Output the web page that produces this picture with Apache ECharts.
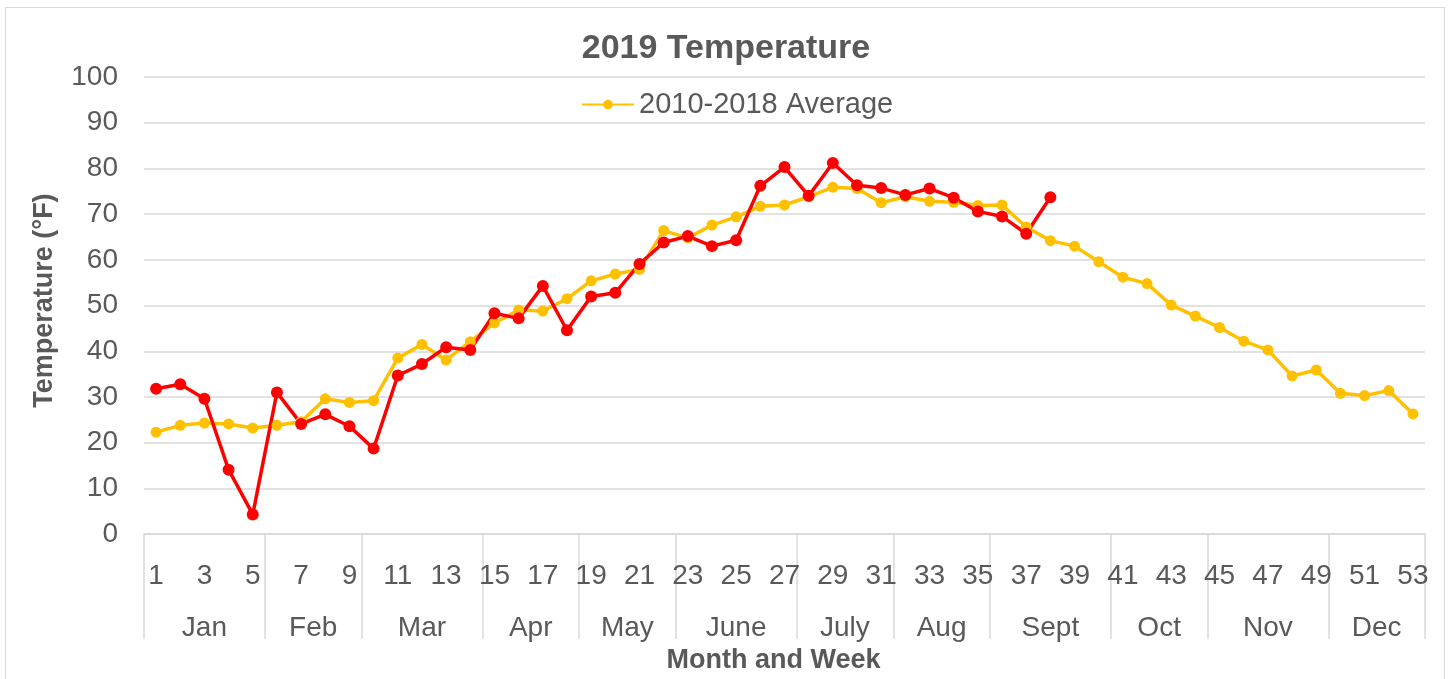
<!DOCTYPE html>
<html>
<head>
<meta charset="utf-8">
<title>2019 Temperature</title>
<script src="https://cdn.jsdelivr.net/npm/echarts@6/dist/echarts.min.js"></script>
<style>
    html, body { margin: 0; padding: 0; background: #fff; }
    #box {
        position: absolute; left: 5px; top: 7px; width: 1440px; height: 680px;
        border: 1px solid #d9d9d9; box-sizing: border-box;
    }
    #myChart { position: absolute; left: 0; top: 0; width: 1452px; height: 679px; }
</style>
</head>
<body>
<div id="box"></div>
<div id="myChart"></div>
<script>
// weeks 1..53
const weeks = [];
for (let i = 1; i <= 53; i++) weeks.push(String(i));

const avg2010_2018 = [
    22.3, 23.8, 24.3, 24.1, 23.2, 23.8, 24.6, 29.6, 28.8, 29.2,
    38.5, 41.5, 38.1, 42.1, 46.2, 49.0, 48.8, 51.5, 55.4, 56.9,
    57.9, 66.4, 64.8, 67.6, 69.4, 71.7, 72.0, 73.8, 75.9, 75.6,
    72.5, 73.8, 72.8, 72.6, 71.9, 72.0, 67.2, 64.2, 63.0, 59.6,
    56.2, 54.8, 50.1, 47.7, 45.2, 42.2, 40.3, 34.6, 35.9, 30.8,
    30.3, 31.4, 26.3
];

const temp2019 = [
    31.8, 32.8, 29.6, 14.1, 4.3, 31.0, 24.1, 26.2, 23.6, 18.7,
    34.7, 37.2, 40.9, 40.3, 48.3, 47.2, 54.3, 44.6, 52.0, 52.8,
    59.1, 63.8, 65.2, 63.0, 64.3, 76.2, 80.3, 74.0, 81.2, 76.3,
    75.7, 74.2, 75.6, 73.6, 70.6, 69.5, 65.7, 73.7
];

const months = ['Jan', 'Feb', 'Mar', 'Apr', 'May', 'June', 'July', 'Aug', 'Sept', 'Oct', 'Nov', 'Dec'];
// weeks per month
const monthWeeks = [5, 4, 5, 4, 4, 5, 4, 4, 5, 4, 5, 4];

const yTicks = [0, 10, 20, 30, 40, 50, 60, 70, 80, 90, 100];

// month boundaries and centres on a 0.5..53.5 scale
const bounds = [0.5];
const centres = [];
monthWeeks.forEach(n => {
    const start = bounds[bounds.length - 1];
    bounds.push(start + n);
    centres.push(start + n / 2);
});

const txt = '#595959';
const grid = '#d9d9d9';
const font = 'Liberation Sans, Arial, sans-serif';

let myChart = echarts.init(document.getElementById('myChart'));
var option = {
    animation: false,
    textStyle: { fontFamily: font },
    title: {
        text: '2019 Temperature',
        left: 'center',
        top: 27,
        textStyle: { color: txt, fontSize: 34, fontWeight: 'bold', fontFamily: font }
    },
    legend: {
        data: ['2010-2018 Average'],
        top: 85,
        left: 576,
        itemWidth: 52,
        itemHeight: 12,
        itemGap: 10,
        textStyle: { color: txt, fontSize: 29, fontFamily: font }
    },
    grid: {
        left: 144,
        right: 27,
        top: 77,
        bottom: 142
    },
    xAxis: [
        {
            type: 'category',
            data: weeks,
            boundaryGap: true,
            axisLine: { lineStyle: { color: grid, width: 1.5 } },
            axisTick: { show: false },
            axisLabel: {
                interval: 1,
                color: txt,
                fontSize: 28,
                margin: 28,
                fontFamily: font
            },
            splitLine: { show: false }
        },
        {
            type: 'value',
            min: 0.5,
            max: 53.5,
            position: 'bottom',
            axisLine: { show: false },
            axisTick: {
                show: true,
                customValues: bounds,
                length: 105,
                lineStyle: { color: grid, width: 1.5 }
            },
            axisLabel: {
                customValues: centres,
                color: txt,
                fontSize: 28,
                margin: 80,
                fontFamily: font,
                formatter: function (v) {
                    const i = centres.indexOf(v);
                    return i >= 0 ? months[i] : '';
                }
            },
            splitLine: { show: false },
            name: 'Month and Week',
            nameLocation: 'middle',
            nameGap: 109,
            nameTextStyle: {
                color: txt, fontSize: 27, fontWeight: 'bold', fontFamily: font,
                padding: [0, 22, 0, 0]
            }
        }
    ],
    yAxis: {
        type: 'value',
        min: 0,
        max: 100,
        interval: 10,
        axisLine: { show: false },
        axisTick: { show: false },
        axisLabel: {
            color: txt,
            fontSize: 28,
            margin: 26,
            fontFamily: font,
            formatter: function (v) { return yTicks.indexOf(v) >= 0 ? String(v) : ''; }
        },
        splitLine: { lineStyle: { color: grid, width: 1.5 } },
        name: 'Temperature (°F)',
        nameLocation: 'middle',
        nameGap: 86,
        nameTextStyle: {
            color: txt, fontSize: 27, fontWeight: 'bold', fontFamily: font,
            padding: [0, 0, 0, 10]
        }
    },
    series: [
        {
            name: '2010-2018 Average',
            type: 'line',
            data: avg2010_2018,
            xAxisIndex: 0,
            symbol: 'circle',
            symbolSize: 11,
            color: '#FFC000',
            lineStyle: { width: 3.5 }
        },
        {
            name: '2019',
            type: 'line',
            data: temp2019,
            xAxisIndex: 0,
            symbol: 'circle',
            symbolSize: 12,
            color: '#FF0000',
            lineStyle: { width: 3.5 }
        }
    ]
};
window.onresize = myChart.resize;
myChart.setOption(option);
</script>
</body>
</html>
